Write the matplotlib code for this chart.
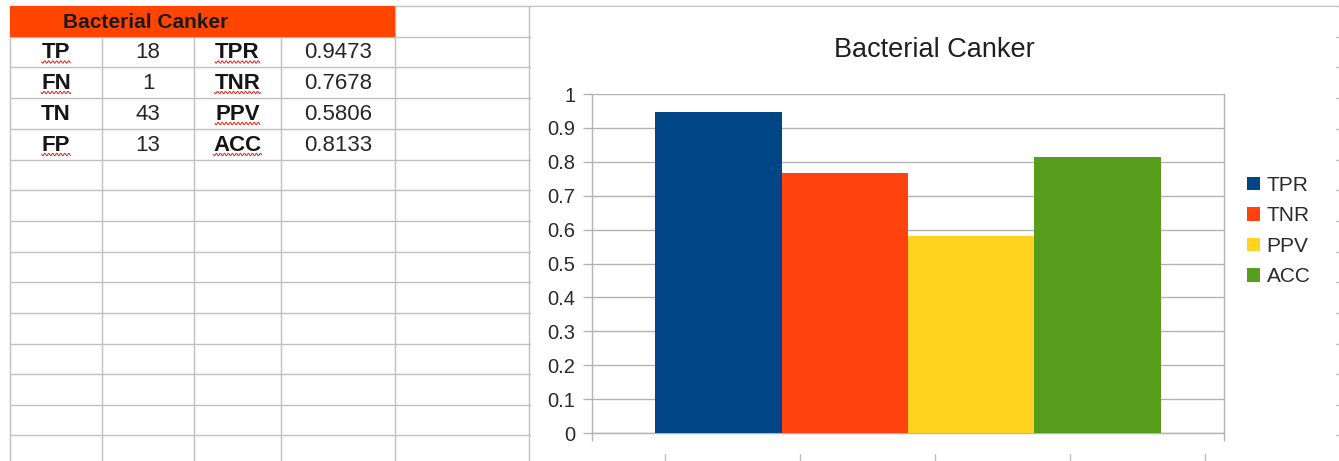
import numpy as np
import matplotlib
matplotlib.use("Agg")
import matplotlib.pyplot as plt
from matplotlib.patches import Rectangle, Patch

# ---- data -------------------------------------------------------------
title = "Bacterial Canker"
count_labels = ["TP", "FN", "TN", "FP"]
count_values = [18, 1, 43, 13]
metric_labels = ["TPR", "TNR", "PPV", "ACC"]
metric_values = [0.9473, 0.7678, 0.5806, 0.8133]
# labels underlined by the spell checker
flagged = ["TP", "FN", "FP", "TPR", "TNR", "PPV", "ACC"]
y_ticks = [0, 0.1, 0.2, 0.3, 0.4, 0.5, 0.6, 0.7, 0.8, 0.9, 1]

# ---- styling ----------------------------------------------------------
bar_colors = ["#004586", "#ff420e", "#ffd320", "#579d1c"]
header_fill = "#ff4500"
cell_line = "#c0c0c0"
chart_line = "#b3b3b3"
plt.rcParams["font.family"] = ["Liberation Sans", "DejaVu Sans"]

W, H = 1339, 461
fig = plt.figure(figsize=(W / 100, H / 100), dpi=100)
fig.patch.set_facecolor("white")

# ---- spreadsheet background (pixel coordinates) -----------------------
bg = fig.add_axes([0, 0, 1, 1], zorder=0)
bg.set_xlim(0, W)
bg.set_ylim(H, 0)
bg.axis("off")

col_edges = [10, 102, 194, 281, 395, 529, 665, 800, 935, 1070, 1205, 1340]
row_edges = [6, 37, 67, 98, 129, 160, 190, 221, 252, 282, 313, 344, 374, 405, 435]
lw_px = 1.0

for y in row_edges:
    bg.hlines(y, col_edges[0], W, color=cell_line, lw=lw_px)
for x in col_edges:
    top = row_edges[1] if x in (102, 194, 281) else row_edges[0]
    bg.vlines(x, top, H, color=cell_line, lw=lw_px)

# merged, filled header row
bg.add_patch(Rectangle((col_edges[0], row_edges[0]), col_edges[4] - col_edges[0],
                       row_edges[1] - row_edges[0], facecolor=header_fill,
                       edgecolor="none", zorder=2))
bg.text((col_edges[0] + col_edges[3]) / 2, (row_edges[0] + row_edges[1]) / 2 + 1,
        title, ha="center", va="center", fontsize=15, fontweight="bold",
        color="#1a1a1a", zorder=3)

cell_texts = []
for r in range(len(count_labels)):
    yc = (row_edges[r + 1] + row_edges[r + 2]) / 2 + 1
    cols = [(count_labels[r], True), (str(count_values[r]), False),
            (metric_labels[r], True), (f"{metric_values[r]:.4f}", False)]
    for c, (s, bold) in enumerate(cols):
        xc = (col_edges[c] + col_edges[c + 1]) / 2
        t = bg.text(xc, yc, s, ha="center", va="center", fontsize=16,
                    fontweight="bold" if bold else "normal",
                    color="#151515" if bold else "#262626", zorder=3)
        cell_texts.append((s, t))

# white chart object covering the cells on the right
bg.add_patch(Rectangle((530.5, 7.5), 805, 446, facecolor="white",
                       edgecolor="none", zorder=4))

# ---- chart ------------------------------------------------------------
ax = fig.add_axes([592 / W, (H - 433) / H, 632 / W, 339 / H], zorder=5)
ax.set_facecolor("white")
n = len(metric_values)
width = 1.0 / (n + 1)
for i, (lab, val, col) in enumerate(zip(metric_labels, metric_values, bar_colors)):
    ax.bar((i - (n - 1) / 2) * width, val, width=width, color=col, label=lab,
           zorder=3, linewidth=0)

ax.set_xlim(-0.5, 0.5)
ax.set_ylim(0, 1)
ax.set_yticks(y_ticks)
ax.set_yticklabels([f"{v:g}" for v in y_ticks])
ax.set_xticks([-0.5, 0.5])
ax.set_xticklabels(["", ""])
ax.yaxis.grid(True, color=chart_line, lw=1.0)
ax.set_axisbelow(True)
ax.spines["top"].set_visible(False)
for s in ("left", "right", "bottom"):
    ax.spines[s].set_color(chart_line)
    ax.spines[s].set_linewidth(1.0)
ax.tick_params(axis="y", direction="out", length=6.5, width=1.0, color=chart_line,
               labelsize=14.5, labelcolor="#2a2a2a", pad=5.5)
ax.tick_params(axis="x", direction="out", length=6, width=1.0, color=chart_line)

fig.text(934 / W, 1 - 50 / H, title, ha="center", va="center", fontsize=19.5,
         color="#1f1f1f", zorder=6)

handles = [Patch(facecolor=c, edgecolor="none") for c in bar_colors]
fig.legend(handles, metric_labels, loc="center left",
           bbox_to_anchor=(1247 / W, 1 - 231 / H), frameon=False, fontsize=15,
           handlelength=0.62, handleheight=0.62, handletextpad=0.32,
           labelspacing=0.55, borderpad=0, borderaxespad=0, labelcolor="#2a2a2a")

# ---- spell-check squiggles under flagged labels ------------------------
fig.canvas.draw()
renderer = fig.canvas.get_renderer()
inv = bg.transData.inverted()
for s, t in cell_texts:
    if s not in flagged:
        continue
    bb = t.get_window_extent(renderer)
    (x0, y0), (x1, _) = inv.transform([(bb.x0, bb.y0), (bb.x1, bb.y1)])
    xs = np.linspace(x0, x1, int((x1 - x0) * 2) + 2)
    base = y0 - 1.5
    ys = base + 1.2 * np.sin(2 * np.pi * (xs - x0) / 4.0)
    bg.plot(xs, ys, color="#e0302a", lw=0.75, zorder=3)

fig.savefig("out.png", dpi=100, facecolor="white")
